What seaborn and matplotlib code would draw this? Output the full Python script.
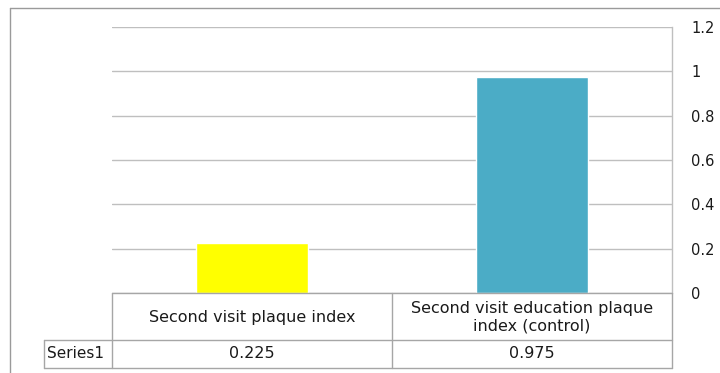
import matplotlib
matplotlib.use('Agg')
import matplotlib.pyplot as plt
import seaborn as sns
from matplotlib.lines import Line2D

categories = ['Second visit plaque index', 'Second visit education plaque\nindex (control)']
series_name = 'Series1'
values = [0.225, 0.975]
value_labels = ['0.225', '0.975']
bar_colors = ['#FFFF00', '#4BACC6']
yticks = [0, 0.2, 0.4, 0.6, 0.8, 1.0, 1.2]
ytick_labels = ['0', '0.2', '0.4', '0.6', '0.8', '1', '1.2']

sns.set_style('white')
plt.rcParams['font.family'] = ['DejaVu Sans']

W, H = 720, 373
fig = plt.figure(figsize=(W / 100, H / 100), dpi=100)

# plot area in pixel units
x0, x1, ytop, ybot = 112, 672, 27, 293
ax = fig.add_axes([x0 / W, 1 - ybot / H, (x1 - x0) / W, (ybot - ytop) / H])

sns.barplot(x=list(range(len(values))), y=values, hue=list(range(len(values))),
            palette=bar_colors, width=0.4, legend=False, ax=ax, saturation=1)

ax.set_ylim(0, 1.2)
ax.set_xlim(-0.5, len(values) - 0.5)
ax.set_yticks(yticks)
ax.set_yticklabels(ytick_labels)
ax.yaxis.tick_right()
ax.tick_params(axis='y', length=0, pad=14, labelsize=10.5, colors='#1a1a1a')
ax.set_xticks([])
ax.set_xlabel('')
ax.set_ylabel('')
ax.grid(axis='y', color='#BFBFBF', linewidth=1)
ax.set_axisbelow(True)
for s in ['left', 'top', 'bottom']:
    ax.spines[s].set_visible(False)
ax.spines['right'].set_color('#BFBFBF')
ax.spines['right'].set_linewidth(1)

# outer chart frame and data table drawn in pixel coordinates
lc = '#A6A6A6'
def pline(xs, ys, color=lc, lw=1):
    fig.add_artist(Line2D([x / W for x in xs], [1 - y / H for y in ys],
                          color=color, linewidth=lw, transform=fig.transFigure))

pline([10, 10], [8, 373], color='#9A9A9A')
pline([10, 720], [8, 8], color='#9A9A9A')

row1, row2, row3 = 293, 340, 368
left_lab = 44
colw = (x1 - x0) / len(categories)
pline([x0, x1], [row1, row1])
pline([left_lab, x1], [row2, row2])
pline([left_lab, x1], [row3, row3])
pline([left_lab, left_lab], [row2, row3])
for i in range(len(categories) + 1):
    xx = x0 + i * colw
    pline([xx, xx], [row1, row3])

fs = 11.5
for i, (cat, val) in enumerate(zip(categories, value_labels)):
    cx = (x0 + (i + 0.5) * colw) / W
    fig.text(cx, 1 - (row1 + row2 + 2) / 2 / H, cat, ha='center', va='center',
             fontsize=fs, color='#1a1a1a', linespacing=1.2)
    fig.text(cx, 1 - (row2 + row3) / 2 / H, val, ha='center', va='center',
             fontsize=fs, color='#1a1a1a')
fig.text((left_lab + 3) / W, 1 - (row2 + row3) / 2 / H, series_name, ha='left',
         va='center', fontsize=11, color='#1a1a1a')

fig.savefig('out.png', dpi=100)
